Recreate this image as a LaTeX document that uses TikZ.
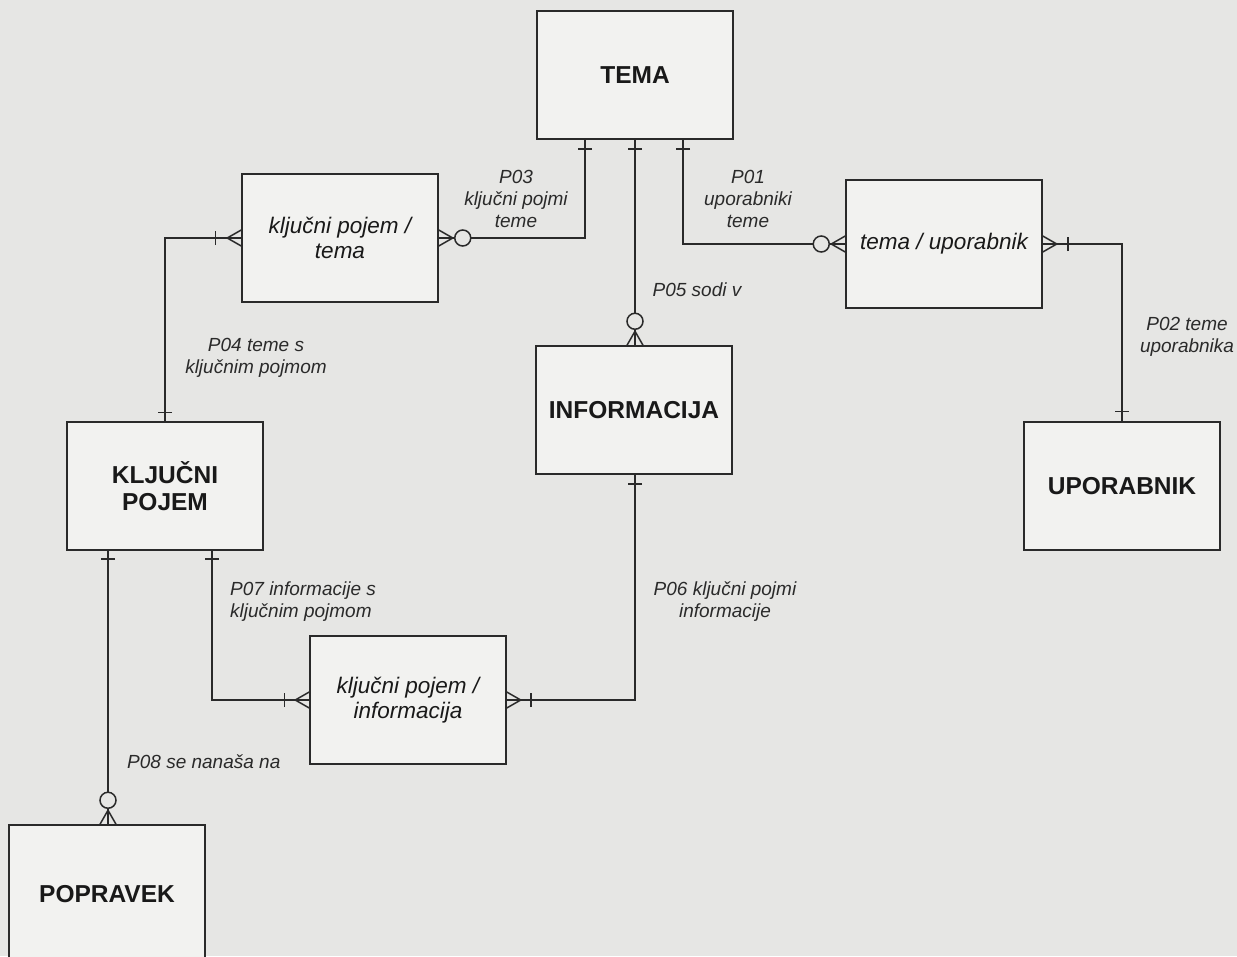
\documentclass[tikz,border=0pt]{standalone}
\usepackage{fontspec}
\setmainfont{Liberation Sans}
\usetikzlibrary{calc}
\definecolor{bg}{HTML}{E6E6E4}
\definecolor{boxfill}{HTML}{F2F2F0}
\definecolor{ink}{HTML}{2A2A2A}
\begin{document}
\begin{tikzpicture}[x=1pt,y=-1pt,
  ent/.style={draw=ink, line width=1.5pt, fill=boxfill, minimum width=196pt, minimum height=128pt, inner sep=0pt, align=center, font=\bfseries\fontsize{24.5}{27}\selectfont, text=black!90},
  assoc/.style={ent, font=\itshape\fontsize{22.5}{25.5}\selectfont},
  lbl/.style={font=\itshape\fontsize{19}{22}\selectfont, align=center, inner sep=0pt, text=ink},
  conn/.style={draw=ink, line width=1.5pt},
  crow/.pic={\draw[conn] (0,8) -- (14,0) -- (0,-8);},
  onebar/.pic={\draw[conn] (0,7) -- (0,-7);},
  ring/.pic={\draw[conn, fill=bg] (0,0) circle[radius=8];},
]
\fill[bg] (0,0) rectangle (1237,956);
\useasboundingbox (0,0) rectangle (1237,956);

% entities
\node[ent] (tema) at (635,75) {TEMA};
\node[assoc] (kpt) at (340,238) {ključni pojem /\\ tema};
\node[assoc] (tu) at (944,244) {tema / uporabnik};
\node[ent] (kp) at (165,486) {KLJUČNI\\POJEM};
\node[ent] (info) at (634,410) {INFORMACIJA};
\node[ent] (upor) at (1122,486) {UPORABNIK};
\node[assoc] (kpi) at (408,700) {ključni pojem /\\ informacija};
\node[ent, minimum height=138pt] (pop) at (107,894) {POPRAVEK};

% connector x positions
\coordinate (c3) at (585,0);
\coordinate (c1) at (683,0);
\coordinate (c5) at (635,0);
\coordinate (c7) at (212,0);
\coordinate (c8) at (108,0);

% connectors
\draw[conn] (tema.south -| c3) |- (kpt.east);
\draw[conn] (tema.south -| c1) |- (tu.west);
\draw[conn] (tema.south -| c5) -- (info.north -| c5);
\draw[conn] (tu.east) -| (upor.north);
\draw[conn] (kpt.west) -| (kp.north);
\draw[conn] (kp.south -| c7) |- (kpi.west);
\draw[conn] (info.south -| c5) |- (kpi.east);
\draw[conn] (kp.south -| c8) -- (pop.north -| c8);

% ends
\pic[rotate=90] at ($(tema.south -| c3)+(0,9)$) {onebar};
\pic[rotate=90] at ($(tema.south -| c5)+(0,9)$) {onebar};
\pic[rotate=90] at ($(tema.south -| c1)+(0,9)$) {onebar};

\pic at (kpt.east) {crow};
\pic at ($(kpt.east)+(24,0)$) {ring};

\pic[rotate=180] at (tu.west) {crow};
\pic at ($(tu.west)+(-24,0)$) {ring};

\pic[rotate=90] at (info.north -| c5) {crow};
\pic at ($(info.north -| c5)+(0,-24)$) {ring};

\pic at (tu.east) {crow};
\pic at ($(tu.east)+(25,0)$) {onebar};
\pic[rotate=90] at ($(upor.north)+(0,-10)$) {onebar};

\pic[rotate=180] at (kpt.west) {crow};
\pic at ($(kpt.west)+(-26,0)$) {onebar};
\pic[rotate=90] at ($(kp.north)+(0,-9)$) {onebar};

\pic[rotate=90] at ($(kp.south -| c7)+(0,8)$) {onebar};
\pic[rotate=90] at ($(kp.south -| c8)+(0,8)$) {onebar};

\pic[rotate=180] at (kpi.west) {crow};
\pic at ($(kpi.west)+(-25,0)$) {onebar};

\pic at (kpi.east) {crow};
\pic at ($(kpi.east)+(24,0)$) {onebar};
\pic[rotate=90] at ($(info.south -| c5)+(0,9)$) {onebar};

\pic[rotate=90] at (pop.north -| c8) {crow};
\pic at ($(pop.north -| c8)+(0,-24)$) {ring};

% labels
\node[lbl] (l3) at (516,199) {P03\\ključni pojmi\\teme};
\node[lbl] (l1) at (748,199) {P01\\uporabniki\\teme};
\node[lbl] (l5) at (697,290) {P05 sodi v};
\node[lbl] (l2) at (1187,337) {P02 teme\\uporabnika};
\node[lbl] (l4) at (256,358) {P04 teme s\\ključnim pojmom};
\node[lbl, anchor=west, align=left] (l7) at (230,602) {P07 informacije s\\ključnim pojmom};
\node[lbl] (l6) at (725,602) {P06 ključni pojmi\\informacije};
\node[lbl, anchor=west] (l8) at (127,762) {P08 se nanaša na};
\end{tikzpicture}
\end{document}
